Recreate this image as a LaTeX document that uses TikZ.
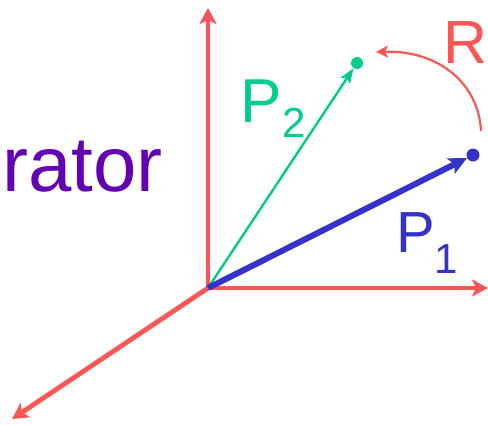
\documentclass[tikz,border=0pt]{standalone}
\usepackage{fontspec}
\setmainfont{Liberation Sans}
\usepackage{xcolor}
\usetikzlibrary{arrows.meta, positioning}

\definecolor{axisred}{RGB}{255,85,85}
\definecolor{vecblue}{RGB}{51,51,204}
\definecolor{vecgreen}{RGB}{0,204,140}
\definecolor{textpurple}{RGB}{100,0,180}

\begin{document}
\begin{tikzpicture}[x=1pt, y=-1pt]
        \tikzstyle{axis} = [draw, axisred, line width=4.8pt, -{Stealth[length=16pt, width=17pt, inset=4pt]}]
        \tikzstyle{dot} = [circle, inner sep=0pt, minimum size=13pt]
        \tikzstyle{label} = [inner sep=0pt, anchor=base west]
        \tikzstyle{rot} = [draw, axisred, line width=2.2pt, -{Stealth[length=12pt, width=12pt, inset=3pt]}]
        \useasboundingbox (0,0) rectangle (488,424);

        \coordinate (o) at (208,288);
        \coordinate (up) at (208,8);
        \coordinate (right) at (488,288);
        \coordinate (down) at (12,419);

        \node [dot, fill=vecblue] (p1) at (473,155) {};
        \node [dot, fill=vecgreen, minimum size=12pt] (p2) at (357,63) {};
        \coordinate (rstart) at (481,131);
        \coordinate (rend) at (376,52);

        \path [axis] (o) -- (up);
        \path [axis] (o) -- (right);
        \path [axis] (o) -- (down);

        \path [draw, vecgreen, line width=2.4pt, -{Stealth[length=15pt, width=11pt, inset=3pt]}] (o) -- (p2);
        \path [draw, vecblue, line width=6pt, -{Stealth[length=18pt, width=17pt, inset=4pt]}] (o) -- (p1);
        \path [rot] (rstart) .. controls (479,85) and (440,50) .. (rend);

        \node [label, textpurple, font=\fontsize{78}{78}\selectfont] (name) at (2,191) {rator};
        \node [label, axisred, font=\fontsize{61}{61}\selectfont] (rlabel) at (443,63) {R};
        \node [label, vecgreen, font=\fontsize{62}{62}\selectfont] (p2label) at (240,122)
            {P\hspace{1pt}\raisebox{-15pt}{\fontsize{42}{42}\selectfont 2}};
        \node [label, vecblue, font=\fontsize{58}{58}\selectfont] (p1label) at (396,252)
            {P\raisebox{-21pt}{\fontsize{42}{42}\selectfont 1}};
    \end{tikzpicture}
\end{document}
